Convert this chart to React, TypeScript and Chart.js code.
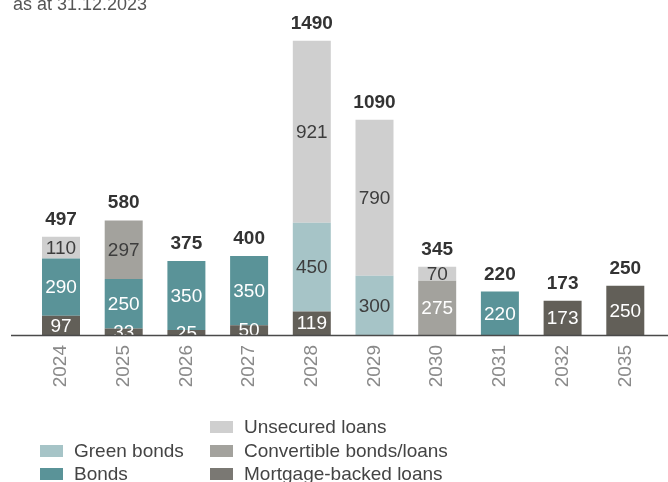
import React, { useEffect, useRef } from "react";
import { Chart, registerables } from "chart.js";

Chart.register(...registerables);

const years = ["2024", "2025", "2026", "2027", "2028", "2029", "2030", "2031", "2032", "2035"];
const mortgageBacked = [97, 33, 25, 50, 119, 0, 0, 0, 173, 250];
const bonds = [290, 250, 350, 350, 0, 0, 0, 220, 0, 0];
const greenBonds = [0, 0, 0, 0, 450, 300, 0, 0, 0, 0];
const convertible = [0, 297, 0, 0, 0, 0, 275, 0, 0, 0];
const unsecured = [110, 0, 0, 0, 921, 790, 70, 0, 0, 0];
const totals = [497, 580, 375, 400, 1490, 1090, 345, 220, 173, 250];
const titleText = "as at 31.12.2023";

const FONT = "'Liberation Sans', Arial, sans-serif";

export default function App() {
  const ref = useRef<HTMLCanvasElement | null>(null);
  useEffect(() => {
    const canvas = ref.current!;
    const labelColors: Record<number, string[]> = {
      0: years.map(() => "#ffffff"),
      1: years.map(() => "#ffffff"),
      2: years.map(() => "#3d3d3d"),
      3: years.map((y) => (y === "2030" ? "#ffffff" : "#3d3d3d")),
      4: years.map(() => "#3d3d3d"),
    };
    const overlay = {
      id: "overlay",
      afterDatasetsDraw(chart: any) {
        const ctx = chart.ctx;
        ctx.save();
        ctx.textAlign = "center";
        ctx.textBaseline = "middle";
        ctx.font = `19px ${FONT}`;
        chart.data.datasets.forEach((ds: any, di: number) => {
          const meta = chart.getDatasetMeta(di);
          meta.data.forEach((el: any, i: number) => {
            const v = ds.data[i];
            if (!v) return;
            ctx.fillStyle = labelColors[di][i];
            ctx.fillText(String(v), el.x, (el.y + el.base) / 2 + 1);
          });
        });
        // totals
        const ys = chart.scales.y;
        const xs = chart.scales.x;
        ctx.font = `bold 19px ${FONT}`;
        ctx.fillStyle = "#333333";
        ctx.textBaseline = "alphabetic";
        totals.forEach((t, i) => {
          ctx.fillText(String(t), xs.getPixelForValue(i), ys.getPixelForValue(t) - 12);
        });
        // baseline
        const y0 = Math.round(ys.getPixelForValue(0)) + 0.5;
        ctx.strokeStyle = "#4a4a4a";
        ctx.lineWidth = 1.5;
        ctx.beginPath();
        ctx.moveTo(11, y0);
        ctx.lineTo(668, y0);
        ctx.stroke();
        // title
        ctx.textAlign = "left";
        ctx.font = `18px ${FONT}`;
        ctx.fillStyle = "#555555";
        ctx.fillText(titleText, 13, 10);
        // legend
        const items = [
          { di: 2, x: 40, y: 451 },
          { di: 1, x: 40, y: 474 },
          { di: 4, x: 210, y: 427 },
          { di: 3, x: 210, y: 451 },
          { di: 0, x: 210, y: 474 },
        ];
        ctx.textBaseline = "middle";
        ctx.font = `19px ${FONT}`;
        items.forEach((it) => {
          const ds = chart.data.datasets[it.di];
          ctx.fillStyle = ds.legendColor || ds.backgroundColor;
          ctx.fillRect(it.x, it.y - 6, 23, 12);
          ctx.fillStyle = "#444444";
          ctx.fillText(ds.label, it.x + 34, it.y + 1);
        });
        ctx.restore();
      },
    };
    const chart = new Chart(canvas, {
      type: "bar",
      data: {
        labels: years,
        datasets: [
          { label: "Mortgage-backed loans", data: mortgageBacked, backgroundColor: "#625f58", legendColor: "#7a7873" } as any,
          { label: "Bonds", data: bonds, backgroundColor: "#5a9398" },
          { label: "Green bonds", data: greenBonds, backgroundColor: "#a6c4c7" },
          { label: "Convertible bonds/loans", data: convertible, backgroundColor: "#a3a29d" },
          { label: "Unsecured loans", data: unsecured, backgroundColor: "#cfcfcf" },
        ],
      },
      options: {
        animation: false,
        responsive: false,
        maintainAspectRatio: false,
        layout: { padding: { left: 29.65, right: 11.35, top: 21, bottom: 0 } },
        datasets: { bar: { categoryPercentage: 1, barPercentage: 0.606 } },
        plugins: { legend: { display: false }, tooltip: { enabled: false } },
        scales: {
          x: {
            stacked: true,
            grid: { display: false, drawTicks: false },
            border: { display: false },
            ticks: {
              minRotation: 90,
              maxRotation: 90,
              padding: 10,
              color: "#8a8a8a",
              font: { family: FONT, size: 19 },
            },
            afterFit: (s: any) => {
              s.height = 147;
            },
          },
          y: {
            stacked: true,
            display: false,
            min: 0,
            max: 1590,
            afterFit: (s: any) => {
              s.width = 0;
            },
          },
        },
      },
      plugins: [overlay],
    } as any);
    return () => chart.destroy();
  }, []);
  return (
    <div style={{ position: "fixed", left: 0, top: 0, width: 668, height: 482, background: "#fff" }}>
      <canvas ref={ref} width={668} height={482} style={{ display: "block" }} />
    </div>
  );
}
